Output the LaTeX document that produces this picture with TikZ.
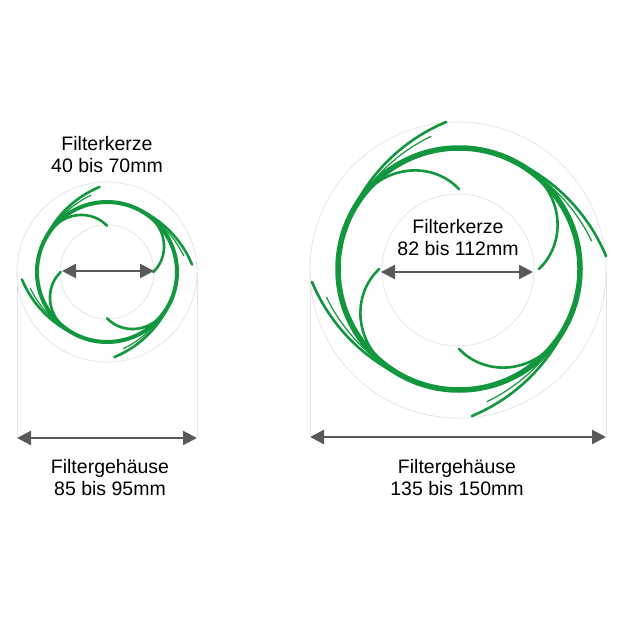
\documentclass[tikz,border=0pt]{standalone}
\usepackage{fontspec}
\setmainfont{Liberation Sans}
\usetikzlibrary{arrows.meta}
\definecolor{pleatgreen}{RGB}{18,150,62}

\newcommand\pleats[4]{% cx, cy, R, ring width
  \begin{scope}[shift={(#1,#2)}]
  \draw[ringline, line width=#4] (0,0) circle (#3);
  \foreach \t in {0,90,180,270}{
    % curl inside the ring
    \draw[pleat] plot[smooth, domain=0:55, samples=20]
      ({-(\t+\x)}:{#3*(1-0.34*(1-\x/55)^2)});
    % tail outside the ring
    \draw[pleat] plot[smooth, domain=0:65, samples=20]
      ({-(\t+70-\x)}:{#3*(1+0.22*(\x/65)^2)});
    \draw[pleat, line width=1.2pt] plot[smooth, domain=0:50, samples=20]
      ({-(\t+62-\x)}:{#3*(1+0.12*(\x/50)^2)});
  }
  \end{scope}}

\begin{document}
\begin{tikzpicture}[x=1pt, y=-1pt, font=\fontsize{19.5}{22}\selectfont]
\tikzset{
  guide/.style={draw=black!10, line width=0.8pt},
  ringline/.style={draw=pleatgreen},
  pleat/.style={draw=pleatgreen, line width=2.6pt, line cap=round},
  measure/.style={draw=black!65, line width=2.2pt, {Triangle[length=14pt,width=14pt]}-{Triangle[length=14pt,width=14pt]}}
}
\useasboundingbox (0,0) rectangle (620,620);
% small housing
\draw[guide] (107,272) circle (90);
\draw[guide] (107,272) circle (47);
\draw[guide] (17,272) -- (17,437);
\draw[guide] (197,272) -- (197,437);
\pleats{107}{272}{70}{4pt}
\coordinate (sl) at (17,438);
\coordinate (sr) at (197,438);
\coordinate (kl) at (62,271);
\coordinate (kr) at (154,271);
\draw[measure] (sl) -- (sr);
\draw[measure] (kl) -- (kr);
\node[align=center] (skerze) at (107,155) {Filterkerze\\40 bis 70mm};
\node[align=center] (sgeh) at (110,478) {Filtergehäuse\\85 bis 95mm};
% large housing
\draw[guide] (458,270) circle (148);
\draw[guide] (458,270) circle (76);
\draw[guide] (310,270) -- (310,436);
\draw[guide] (606,270) -- (606,436);
\pleats{459}{269}{121}{5.5pt}
\coordinate (ll) at (310,437);
\coordinate (lr) at (606,437);
\coordinate (kl2) at (381,272);
\coordinate (kr2) at (533,272);
\draw[measure] (ll) -- (lr);
\draw[measure] (kl2) -- (kr2);
\node[align=center] (lkerze) at (458,238) {Filterkerze\\82 bis 112mm};
\node[align=center] (lgeh) at (457,478) {Filtergehäuse\\135 bis 150mm};
\end{tikzpicture}
\end{document}
